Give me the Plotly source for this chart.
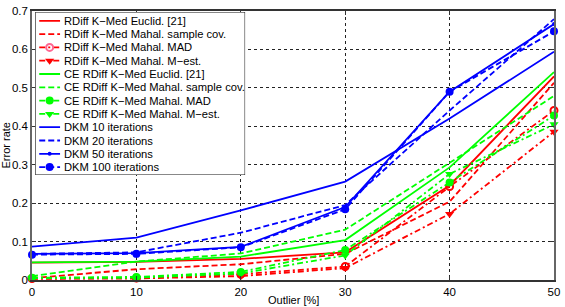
import plotly.graph_objects as go

outlier = [0, 10, 20, 30, 40, 50]

rdiff_euclid = [0.045, 0.047, 0.055, 0.072, 0.246, 0.530]
rdiff_sample = [0.005, 0.028, 0.041, 0.068, 0.204, 0.513]
rdiff_mad = [0.004, 0.005, 0.015, 0.035, 0.243, 0.441]
rdiff_mest = [0.003, 0.004, 0.010, 0.031, 0.172, 0.386]
ce_euclid = [0.046, 0.048, 0.061, 0.104, 0.293, 0.541]
ce_sample = [0.010, 0.048, 0.069, 0.131, 0.305, 0.479]
ce_mad = [0.006, 0.008, 0.021, 0.078, 0.254, 0.428]
ce_mest = [0.005, 0.006, 0.017, 0.064, 0.276, 0.405]
dkm10 = [0.087, 0.110, 0.181, 0.256, 0.420, 0.594]
dkm20 = [0.068, 0.072, 0.123, 0.195, 0.441, 0.679]
dkm50 = [0.068, 0.070, 0.086, 0.190, 0.490, 0.666]
dkm100 = [0.066, 0.068, 0.085, 0.184, 0.490, 0.647]

labels = [
    "RDiff K−Med Euclid. [21]",
    "RDiff K−Med Mahal. sample cov.",
    "RDiff K−Med Mahal. MAD",
    "RDiff K−Med Mahal. M−est.",
    "CE RDiff K−Med Euclid. [21]",
    "CE RDiff K−Med Mahal. sample cov.",
    "CE RDiff K−Med Mahal. MAD",
    "CE RDiff K−Med Mahal. M−est.",
    "DKM 10 iterations",
    "DKM 20 iterations",
    "DKM 50 iterations",
    "DKM 100 iterations",
]
series = [rdiff_euclid, rdiff_sample, rdiff_mad, rdiff_mest,
          ce_euclid, ce_sample, ce_mad, ce_mest,
          dkm10, dkm20, dkm50, dkm100]

RED, GREEN, BLUE = "#ff0000", "#00ff00", "#0000ff"
DASH = "6px,3px"
DASHDOT = "6px,3px,2px,3px"
styles = [
    dict(color=RED, dash="solid", marker=None),
    dict(color=RED, dash=DASH, marker=None),
    dict(color=RED, dash=DASHDOT, marker=dict(symbol="circle-open", size=7, line=dict(width=2, color=RED))),
    dict(color=RED, dash=DASHDOT, marker=dict(symbol="triangle-down", size=8, color=RED)),
    dict(color=GREEN, dash="solid", marker=None),
    dict(color=GREEN, dash=DASH, marker=None),
    dict(color=GREEN, dash=DASHDOT, marker=dict(symbol="circle", size=8, color=GREEN)),
    dict(color=GREEN, dash=DASHDOT, marker=dict(symbol="triangle-down", size=8, color=GREEN)),
    dict(color=BLUE, dash="solid", marker=None),
    dict(color=BLUE, dash=DASH, marker=None),
    dict(color=BLUE, dash="solid", marker=dict(symbol="circle", size=4, color=BLUE)),
    dict(color=BLUE, dash=DASH, marker=dict(symbol="circle", size=8, color=BLUE)),
]

FONT = "Liberation Sans, Arial, sans-serif"
fig = go.Figure()

for ys, st, lab in zip(series, styles, labels):
    mode = "lines+markers" if st["marker"] else "lines"
    kw = dict(x=outlier, y=ys, mode=mode, name=lab, showlegend=False,
              line=dict(color=st["color"], width=1.8, dash=st["dash"]),
              xaxis="x", yaxis="y", cliponaxis=False)
    if st["marker"]:
        kw["marker"] = st["marker"]
    fig.add_trace(go.Scatter(**kw))

# ---- manual legend (subplot 2, pixel-like coordinates) ----
LW, LH = 211.7, 166.7
fig.add_trace(go.Scatter(x=[0, LW, LW, 0, 0], y=[0, 0, LH, LH, 0], mode="lines",
                         fill="toself", fillcolor="white",
                         line=dict(color="black", width=1), showlegend=False,
                         xaxis="x2", yaxis="y2", hoverinfo="skip"))
for i, (st, lab) in enumerate(zip(styles, labels)):
    yc = 9.0 + 13.6 * i
    fig.add_trace(go.Scatter(x=[4, 25], y=[yc, yc], mode="lines",
                             line=dict(color=st["color"], width=1.8, dash=st["dash"]),
                             showlegend=False, xaxis="x2", yaxis="y2", hoverinfo="skip"))
    if st["marker"]:
        fig.add_trace(go.Scatter(x=[14.5], y=[yc], mode="markers", marker=st["marker"],
                                 showlegend=False, xaxis="x2", yaxis="y2", hoverinfo="skip"))
    fig.add_annotation(x=27.3, y=yc, xref="x2", yref="y2", text=lab, showarrow=False,
                       xanchor="left", yanchor="middle",
                       font=dict(family=FONT, size=11.2, color="black"))

W, H = 565, 307
ml, mr, mt, mb = 31.7, 6.7, 5, 27
pw = W - ml - mr
ph = H - mt - mb
lx0 = (35 - ml) / pw
lx1 = (246.7 - ml) / pw
ly1 = (H - mb - 6) / ph
ly0 = (H - mb - 172.7) / ph

axis_common = dict(
    showline=True, mirror="ticks", ticks="inside", ticklen=4, tickcolor="#333",
    showgrid=True, griddash="dot", gridcolor="#222", gridwidth=1, zeroline=False,
    tickfont=dict(family=FONT, size=11.5, color="black"),
)

fig.update_layout(
    width=W, height=H,
    margin=dict(l=ml, r=mr, t=mt, b=mb, pad=0),
    paper_bgcolor="white", plot_bgcolor="white",
    font=dict(family=FONT, size=11, color="black"),
    xaxis=dict(range=[0, 50], tickvals=outlier, linecolor="#333", linewidth=1.5, **axis_common),
    yaxis=dict(range=[0, 0.7], tickvals=[0, 0.1, 0.2, 0.3, 0.4, 0.5, 0.6, 0.7],
               ticktext=["0", "0.1", "0.2", "0.3", "0.4", "0.5", "0.6", "0.7"],
               linecolor="#666", linewidth=1.5, **axis_common),
    xaxis2=dict(domain=[lx0, lx1], range=[0, LW], visible=False, anchor="y2", fixedrange=True),
    yaxis2=dict(domain=[ly0, ly1], range=[LH, 0], visible=False, anchor="x2", fixedrange=True),
    showlegend=False,
)

fig.add_annotation(x=-(ml - 4.5) / pw, y=0.5, xref="paper", yref="paper", text="Error rate",
                   textangle=-90, showarrow=False, xanchor="center", yanchor="middle",
                   font=dict(family=FONT, size=11))
fig.add_annotation(x=0.5, y=-(300 - (H - mb)) / ph, xref="paper", yref="paper", text="Outlier [%]",
                   showarrow=False, xanchor="center", yanchor="middle",
                   font=dict(family=FONT, size=11))

fig.write_html("out.html", config={"displayModeBar": False},
               post_script="document.body.style.margin='0';document.body.style.overflow='hidden';")
